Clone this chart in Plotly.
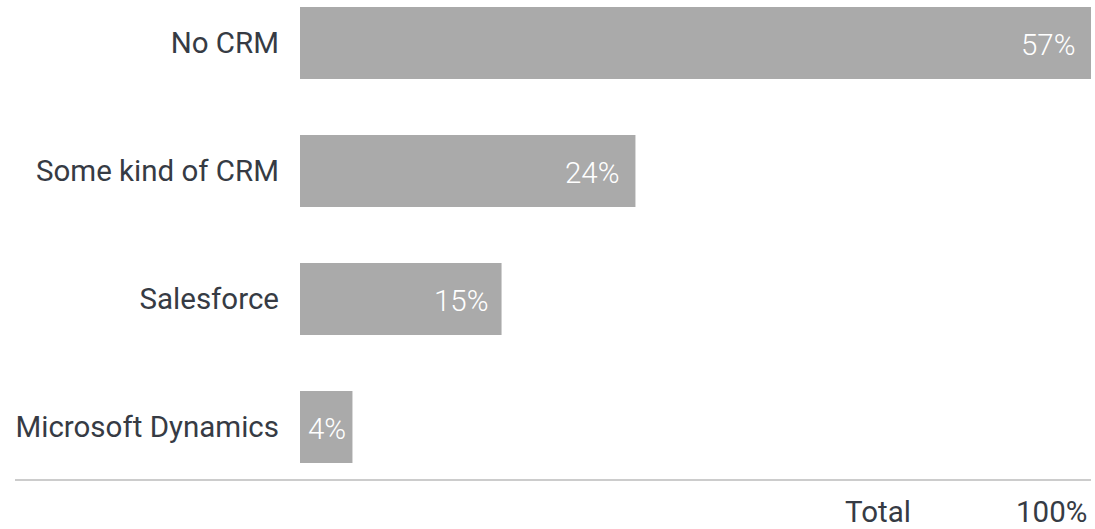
import plotly.graph_objects as go

categories = ["No CRM", "Some kind of CRM", "Salesforce", "Microsoft Dynamics"]
values = [57.3, 24.3, 14.6, 3.8]
value_labels = ["57%", "24%", "15%", "4%"]
total_label = "Total"
total_value = "100%"

BAR = "#aaaaaa"
TXT = "#363b44"
FONT = "Roboto"
FS = 29.5

fig = go.Figure(go.Bar(
    x=values, y=categories, orientation="h",
    marker=dict(color=BAR, line=dict(width=0)),
    width=0.5625, hoverinfo="skip",
))

shifts = [-13, -13, -11, -4]
for c, v, lab, s in zip(categories, values, value_labels, shifts):
    fig.add_annotation(x=v, y=c, xref="x", yref="y", text=lab, showarrow=False,
                       xanchor="right", yanchor="middle", xshift=s, yshift=-2,
                       font=dict(family=FONT, size=FS, color="white", weight=300))

for lab, xr in [(total_label, 912), (total_value, 1088)]:
    fig.add_annotation(x=(xr - 300) / 791, y=-0.07, xref="paper", yref="paper",
                       text=lab, showarrow=False, xanchor="right", yanchor="middle",
                       borderpad=0, yshift=2,
                       font=dict(family=FONT, size=FS, color=TXT))

fig.add_shape(type="line", xref="paper", yref="paper",
              x0=(15 - 300) / 791, x1=1.0, y0=0, y1=0,
              line=dict(color="#999999", width=1.2))

fig.update_layout(
    width=1095, height=529,
    margin=dict(l=300, r=4, t=0, b=49),
    paper_bgcolor="white", plot_bgcolor="white",
    showlegend=False,
    xaxis=dict(range=[0, max(values)], visible=False, fixedrange=True),
    yaxis=dict(range=[3.414, -0.336], showgrid=False, zeroline=False, showline=False,
               ticks="", ticklabelstandoff=20,
               tickfont=dict(family=FONT, size=FS, color=TXT), fixedrange=True),
    font=dict(family=FONT),
)

fig.write_html("out.html", config={"displayModeBar": False})
